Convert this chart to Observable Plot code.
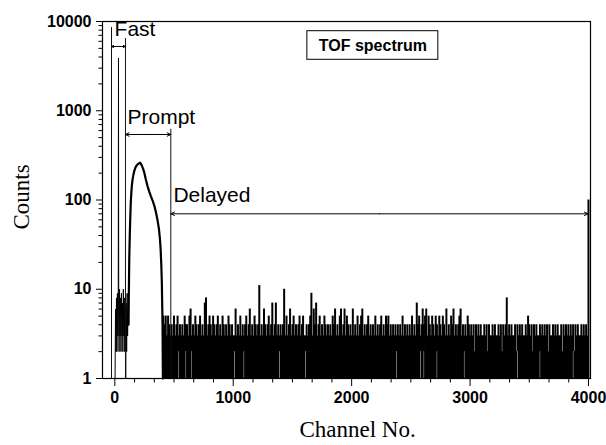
<!DOCTYPE html>
<html>
<head>
<meta charset="utf-8">
<script src="https://cdn.jsdelivr.net/npm/d3@7"></script>
<script src="https://cdn.jsdelivr.net/npm/@observablehq/plot@0.6"></script>
<style>
  html, body { margin: 0; padding: 0; background: #fff; }
  #chart { width: 606px; height: 445px; }
</style>
</head>
<body>
<div id="chart"></div>
<script>
// ---------- axis ticks ----------
const xMajorTicks = [0, 1000, 2000, 3000, 4000];
const xMinorTicks = [166.7, 333.3, 500, 666.7, 833.3, 1166.7, 1333.3, 1500, 1666.7, 1833.3,
  2166.7, 2333.3, 2500, 2666.7, 2833.3, 3166.7, 3333.3, 3500, 3666.7, 3833.3];
const yMajorTicks = [1, 10, 100, 1000, 10000];
const yMinorTicks = [2, 3, 4, 5, 6, 7, 8, 9, 20, 30, 40, 50, 60, 70, 80, 90,
  200, 300, 400, 500, 600, 700, 800, 900, 2000, 3000, 4000, 5000, 6000, 7000, 8000, 9000];

// ---------- fast region (channel, counts) ----------
const fastChannels = [2, 6, 10, 14, 18, 22, 26, 29, 31, 33, 36, 40, 44, 48, 52, 56, 60, 64, 68, 72, 76, 80, 84, 88, 92, 96, 100, 104, 108, 112, 116];
const fastCounts   = [1, 6, 2, 8, 2, 9, 3, 6, 3900, 5, 2, 10, 3, 8, 2, 9, 3, 7, 2, 10, 3, 8, 2, 6, 1, 7, 2, 9, 3, 6, 4];

// ---------- prompt peak (channel, counts) ----------
const promptChannels = [116, 118, 122, 126, 130, 135, 140, 145, 150, 158, 166, 175, 185, 195, 205, 213, 220, 230, 240, 250, 262, 275, 290, 305, 320, 335, 350, 362, 372, 380, 387, 393, 397, 400, 403, 406];
const promptCounts   = [4, 8, 22, 38, 60, 95, 125, 150, 170, 195, 215, 232, 245, 252, 258, 262, 255, 240, 222, 200, 170, 145, 125, 110, 98, 85, 70, 58, 48, 38, 28, 18, 12, 7, 4, 1];

// ---------- delayed region: max counts per 10-channel bin from channel 410 ----------
const delayedStart = 410;
const delayedStep = 10;
const delayedMax = [
  5, 4, 5, 3, 5, 4, 3, 4, 3, 5, 3, 4, 5, 3, 4, 3, 4, 3, 5, 4,
  4, 3, 5, 6, 3, 4, 3, 5, 4, 3, 4, 5, 3, 4, 3, 7, 8, 3, 4, 5,
  4, 3, 5, 4, 3, 4, 5, 3, 4, 3, 5, 4, 3, 4, 3, 5, 4, 3, 4, 3,
  3, 6, 3, 4, 3, 5, 3, 4, 3, 4, 5, 3, 4, 6, 3, 4, 3, 5, 4, 3,
  4, 11, 3, 4, 3, 6, 4, 3, 4, 5, 3, 4, 7, 3, 4, 7, 3, 4, 3, 4,
  3, 4, 10, 3, 5, 3, 4, 6, 3, 4, 5, 3, 4, 3, 4, 5, 3, 4, 5, 3,
  3, 4, 3, 4, 5, 9, 3, 6, 4, 7, 3, 4, 5, 3, 4, 3, 5, 4, 3, 4,
  3, 4, 3, 5, 4, 6, 3, 4, 3, 5, 6, 3, 4, 6, 3, 5, 4, 3, 4, 3,
  6, 3, 4, 3, 5, 3, 4, 5, 6, 3, 4, 3, 4, 5, 3, 4, 3, 4, 3, 5,
  3, 4, 3, 4, 5, 3, 4, 3, 5, 4, 5, 3, 4, 3, 4, 3, 4, 3, 4, 3,
  4, 3, 5, 3, 4, 3, 4, 3, 4, 3, 5, 3, 4, 3, 7, 4, 5, 3, 4, 6,
  4, 5, 6, 3, 5, 4, 3, 5, 4, 3, 5, 4, 3, 5, 4, 3, 5, 4, 3, 6,
  3, 4, 3, 5, 4, 6, 3, 4, 3, 4, 5, 6, 3, 4, 3, 4, 3, 5, 4, 3,
  4, 3, 4, 2, 4, 3, 4, 3, 4, 3, 3, 4, 3, 4, 2, 4, 3, 3, 4, 3,
  4, 3, 3, 4, 3, 4, 2, 4, 3, 4, 8, 3, 4, 3, 4, 3, 3, 4, 2, 4,
  3, 4, 3, 4, 3, 3, 4, 3, 5, 4, 3, 4, 2, 4, 3, 4, 3, 3, 4, 3,
  4, 3, 4, 3, 4, 2, 4, 3, 3, 4, 3, 4, 3, 4, 3, 3, 4, 2, 4, 3,
  4, 3, 4, 3, 4, 3, 4, 2, 4, 3, 4, 3, 3, 4, 3, 4, 3, 4, 3, 100
];
const delayedGaps = [540, 600, 650, 1010, 1090, 1390, 1610, 2380, 2580, 2610, 2720, 2950, 3400, 3590, 3870];

// ---------- annotations ----------
const markerLines = [
  { channel: -28, top: 8570 },
  { channel: 90, top: 6450 },
  { channel: 473, top: 621 }
];
const spans = [
  { label: "Fast",    from: -28, to: 90,   y: 5250, labelX: -2,  labelY: 8240 },
  { label: "Prompt",  from: 90,  to: 473,  y: 542,  labelX: 107, labelY: 840 },
  { label: "Delayed", from: 473, to: 3997, y: 70,   labelX: 495, labelY: 112 }
];
const titleBox = { text: "TOF spectrum", x1: 1626, x2: 2732, y1: 3724, y2: 7785, cx: 2179, cy: 5385 };

// ---------- tables ----------
const fastData = fastChannels.map((c, i) => ({ channel: c, counts: fastCounts[i] }));
const promptData = promptChannels.map((c, i) => ({ channel: c, counts: promptCounts[i] }));
const delayedData = delayedMax.map((v, i) => {
  const ch = delayedStart + i * delayedStep;
  return { channel: ch, hi: v, lo: delayedGaps.includes(ch) ? 2 : 1 };
});
const arrowHalves = spans.flatMap(s => {
  const mid = (s.from + s.to) / 2;
  return [{ x1: mid, x2: s.from, y: s.y }, { x1: mid, x2: s.to, y: s.y }];
});

const sans = "'Liberation Sans', Arial, Helvetica, sans-serif";
const serif = "'Liberation Serif', 'Times New Roman', serif";

const chart = Plot.plot({
  width: 606,
  height: 445,
  marginLeft: 102,
  marginRight: 16,
  marginTop: 21,
  marginBottom: 67,
  style: { fontFamily: sans, fontSize: "16px", color: "black", background: "white", overflow: "visible" },
  x: { domain: [-104, 4017] },
  y: { type: "log", domain: [1, 10000] },
  marks: [
    // data
    Plot.ruleX(delayedData, { x: "channel", y1: "lo", y2: "hi", stroke: "black", strokeWidth: 2 }),
    Plot.line(fastData, { x: "channel", y: "counts", stroke: "black", strokeWidth: 1 }),
    Plot.line(promptData, { x: "channel", y: "counts", stroke: "black", strokeWidth: 2.2 }),
    // region markers
    Plot.ruleX(markerLines, { x: "channel", y1: 1, y2: "top", stroke: "#111", strokeWidth: 1 }),
    Plot.arrow(arrowHalves, { x1: "x1", x2: "x2", y1: "y", y2: "y", stroke: "black", strokeWidth: 1, headLength: 6, headAngle: 50 }),
    Plot.text(spans, { x: "labelX", y: "labelY", text: "label", textAnchor: "start", lineAnchor: "middle", fontSize: 21, fontFamily: sans, fill: "black" }),
    // title box
    Plot.rect([titleBox], { x1: "x1", x2: "x2", y1: "y1", y2: "y2", fill: "white", stroke: "black", strokeWidth: 1 }),
    Plot.text([titleBox], { x: "cx", y: "cy", text: "text", fontSize: 16, fontWeight: "bold", fontFamily: sans, fill: "black" }),
    // frame + axes
    Plot.frame({ stroke: "black", strokeWidth: 1.2 }),
    Plot.axisY({ ticks: yMajorTicks, tickSize: 6, tickPadding: 5, tickFormat: d => String(d), fontSize: 16, fontWeight: "bold", fontFamily: sans, label: null }),
    Plot.axisY({ ticks: yMinorTicks, tickSize: 3.5, tickFormat: () => "", label: null }),
    Plot.axisX({ ticks: xMajorTicks, tickSize: 8, tickPadding: 5, tickFormat: d => String(d), fontSize: 16, fontWeight: "bold", fontFamily: sans, label: null }),
    Plot.axisX({ ticks: xMinorTicks, tickSize: 4.5, tickFormat: () => "", label: null }),
    // axis titles
    Plot.text(["Counts"], { frameAnchor: "middle", dx: -325, dy: -3, rotate: -90, textAnchor: "middle", fontSize: 23, fontFamily: serif, fill: "black", text: d => d, lineAnchor: "middle" }),
    Plot.text(["Channel No."], { frameAnchor: "bottom", dx: 11, dy: 51, textAnchor: "middle", fontSize: 23, fontFamily: serif, fill: "black", text: d => d, lineAnchor: "middle" })
  ]
});
document.getElementById("chart").appendChild(chart);
</script>
</body>
</html>
